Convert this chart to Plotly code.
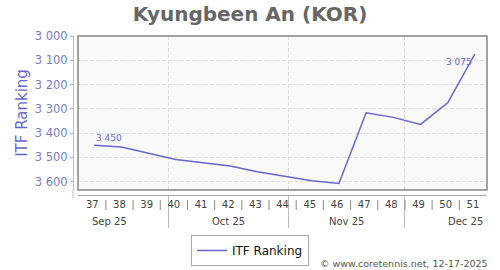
import plotly.graph_objects as go

# ---- data ----
dates = ["2025-09-12", "2025-09-19", "2025-10-03", "2025-10-10", "2025-10-17",
         "2025-10-24", "2025-10-31", "2025-11-07", "2025-11-14", "2025-11-21",
         "2025-11-28", "2025-12-05", "2025-12-12", "2025-12-19"]
ranking = [3450, 3457, 3508, 3520, 3535, 3559, 3579, 3596, 3607, 3316,
           3335, 3364, 3275, 3075]

week_labels = ["37", "38", "39", "40", "41", "42", "43", "44", "45", "46",
               "47", "48", "49", "50", "51"]
week_centers = ["2025-09-11 12:00", "2025-09-18 12:00", "2025-09-25 12:00",
                "2025-10-02 12:00", "2025-10-09 12:00", "2025-10-16 12:00",
                "2025-10-23 12:00", "2025-10-30 12:00", "2025-11-06 12:00",
                "2025-11-13 12:00", "2025-11-20 12:00", "2025-11-27 12:00",
                "2025-12-04 12:00", "2025-12-11 12:00", "2025-12-18 12:00"]
week_bounds = ["2025-09-15", "2025-09-22", "2025-09-29", "2025-10-06",
               "2025-10-13", "2025-10-20", "2025-10-27", "2025-11-03",
               "2025-11-10", "2025-11-17", "2025-11-24", "2025-12-01",
               "2025-12-08", "2025-12-15"]
month_labels = ["Sep 25", "Oct 25", "Nov 25", "Dec 25"]
month_mids = ["2025-09-16", "2025-10-16 12:00", "2025-11-16", "2025-12-16 12:00"]
month_starts = ["2025-10-01", "2025-11-01", "2025-12-01"]

FONT = "DejaVu Sans"
LINE = "#6666cc"
W, H = 500, 270
ML, MR, MT, MB = 73, 13, 36, 75
PW, PH = W - ML - MR, H - MT - MB
xd0 = 5 / PW
yd0 = 5 / PH


def fmt(v):
    return f"{v:,}".replace(",", " ")


fig = go.Figure()
fig.add_trace(go.Scatter(
    x=dates, y=ranking, mode="lines", name="ITF Ranking",
    line=dict(color=LINE, width=1.5), hoverinfo="skip"))

shapes = []
# plot border
shapes.append(dict(type="rect", xref="paper", yref="paper", x0=xd0, x1=1,
                   y0=yd0, y1=1, line=dict(color="#858585", width=1.5),
                   layer="above"))
# week separators
for b in week_bounds:
    shapes.append(dict(type="line", xref="x", yref="paper", x0=b, x1=b,
                       y0=-5 / PH, y1=-15 / PH,
                       line=dict(color="#8a8a8a", width=1)))
# y axis line extension below the plot
shapes.append(dict(type="line", xref="paper", yref="paper", x0=0, x1=0,
                   y0=yd0, y1=-3 / PH, line=dict(color="#b8b8e0", width=1)))

annotations = []
for lab, m in zip(month_labels, month_mids):
    annotations.append(dict(x=m, y=-26 / PH, xref="x", yref="paper",
                            text=lab, showarrow=False, yanchor="middle",
                            font=dict(family=FONT, size=10, color="#444444")))
annotations.append(dict(x=dates[0], y=ranking[0], xref="x", yref="y",
                        text=fmt(ranking[0]), showarrow=False,
                        xanchor="left", yanchor="bottom", yshift=0,
                        font=dict(family=FONT, size=9, color=LINE)))
annotations.append(dict(x=dates[-1], y=ranking[-1], xref="x", yref="y",
                        text=fmt(ranking[-1]), showarrow=False,
                        xanchor="right", yanchor="top", yshift=-1, xshift=-1,
                        font=dict(family=FONT, size=9, color=LINE)))
annotations.append(dict(x=1, y=-68 / PH, xref="paper", yref="paper",
                        xanchor="right", yanchor="middle", showarrow=False,
                        text="© www.coretennis.net, 12-17-2025", xshift=3,
                        font=dict(family=FONT, size=9.5, color="#555555")))

fig.update_layout(
    width=W, height=H,
    margin=dict(l=ML, r=MR, t=MT, b=MB, pad=0, autoexpand=False),
    paper_bgcolor="white",
    plot_bgcolor="#f9f9f9",
    separators=". ",
    font=dict(family=FONT),
    title=dict(text="Kyungbeen An (KOR)", x=0.5, xref="container",
               y=1 - 14 / H, yref="container", xanchor="center",
               yanchor="middle",
               font=dict(family=FONT, size=20, color="#666666",
                         weight="bold")),
    xaxis=dict(
        type="date", domain=[xd0, 1], anchor="free", position=0,
        range=["2025-09-07 19:40", "2025-12-22 03:00"],
        tickmode="array", tickvals=week_centers, ticktext=week_labels,
        ticks="", showgrid=False, zeroline=False, automargin=False,
        showline=True, linecolor="#aaaaaa", linewidth=1,
        tickfont=dict(family=FONT, size=10, color="#444444"),
        minor=dict(tickmode="array", tickvals=month_starts, ticks="outside",
                   ticklen=32, tickcolor="#bbbbbb", tickwidth=1,
                   showgrid=True, gridcolor="#dddddd", griddash="4px,2px",
                   gridwidth=1),
    ),
    yaxis=dict(
        domain=[yd0, 1], anchor="free", position=0, automargin=False,
        range=[3634, 3000], tickmode="linear", tick0=3000, dtick=100,
        tickformat=",d", ticks="outside", ticklen=3, tickcolor="#b8b8e0",
        showline=True, linecolor="#b8b8e0", linewidth=1,
        showgrid=True, gridcolor="#dddddd", griddash="4px,2px", gridwidth=1,
        zeroline=False,
        tickfont=dict(family=FONT, size=11.5, color="#7a7acc"),
        title=dict(text="ITF Ranking", standoff=2,
                   font=dict(family=FONT, size=15, color=LINE)),
    ),
    showlegend=True,
    legend=dict(x=0.5, xref="container", xanchor="center",
                y=1 - 235 / H, yref="container", yanchor="top",
                bordercolor="#aaaaaa", borderwidth=1, bgcolor="white",
                font=dict(family=FONT, size=12, color="#111111"),
                itemwidth=30, tracegroupgap=0),
    shapes=shapes,
    annotations=annotations,
)

fig.write_html("out.html")
